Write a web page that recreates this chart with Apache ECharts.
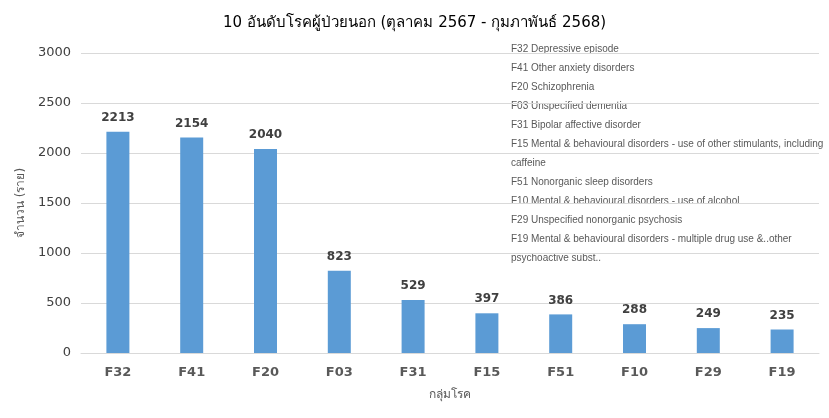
<!DOCTYPE html>
<html>
<head>
<meta charset="utf-8">
<script src="https://cdn.jsdelivr.net/npm/echarts@6/dist/echarts.min.js"></script>
<style>
  html, body { margin: 0; padding: 0; background: #fff; }
  #main { width: 829px; height: 418px; }
</style>
</head>
<body>
<div id="main"></div>
<script>
// ข้อมูล 10 อันดับโรค
var codes = ['F32', 'F41', 'F20', 'F03', 'F31', 'F15', 'F51', 'F10', 'F29', 'F19'];
var patients = [2213, 2154, 2040, 823, 529, 397, 386, 288, 249, 235];
var noteLines = [
    'F32 Depressive episode',
    'F41 Other anxiety disorders',
    'F20 Schizophrenia',
    'F03 Unspecified dementia',
    'F31 Bipolar affective disorder',
    'F15 Mental & behavioural disorders - use of other stimulants, including',
    'caffeine',
    'F51 Nonorganic sleep disorders',
    'F10 Mental & behavioural disorders - use of alcohol',
    'F29 Unspecified nonorganic psychosis',
    'F19 Mental & behavioural disorders - multiple drug use &..other',
    'psychoactive subst..'
];
var yTicks = [0, 500, 1000, 1500, 2000, 2500, 3000];

var font = 'Tahoma, "DejaVu Sans", "Noto Sans", sans-serif';
var noteFont = '"Liberation Sans", Arial, sans-serif';
var myChart = echarts.init(document.getElementById('main'));
var option = {
    animation: false,
    title: {
        text: '10 อันดับโรคผู้ป่วยนอก (ตุลาคม 2567 - กุมภาพันธ์ 2568)',
        left: 'center',
        top: 11,
        textStyle: { fontFamily: font, fontSize: 15, fontWeight: 'normal', color: '#000' }
    },
    grid: { left: 81, right: 10, top: 53, bottom: 65 },
    xAxis: {
        type: 'category',
        data: codes,
        name: 'กลุ่มโรค',
        nameLocation: 'middle',
        nameGap: 36,
        nameTextStyle: { fontFamily: font, fontSize: 12, color: '#595959' },
        axisLine: { lineStyle: { color: '#d9d9d9' } },
        axisTick: { show: false },
        axisLabel: { fontFamily: font, fontSize: 13, fontWeight: 'bold', color: '#595959', margin: 13 }
    },
    yAxis: {
        type: 'value',
        min: yTicks[0],
        max: yTicks[yTicks.length - 1],
        interval: 500,
        name: 'จำนวน (ราย)',
        nameLocation: 'middle',
        nameGap: 52,
        nameTextStyle: { fontFamily: font, fontSize: 12, color: '#595959' },
        axisLine: { show: false },
        axisTick: { show: false },
        axisLabel: {
            fontFamily: font, fontSize: 13, color: '#404040', margin: 10,
            formatter: function (v) { return String(v); }
        },
        splitLine: { lineStyle: { color: '#d9d9d9' } }
    },
    series: [{
        type: 'bar',
        data: patients,
        barWidth: 23,
        itemStyle: { color: '#5b9bd5' },
        label: {
            show: true,
            position: 'top',
            distance: 8,
            fontFamily: font,
            fontSize: 12,
            fontWeight: 'bold',
            color: '#404040'
        }
    }],
    graphic: [{
        type: 'text',
        left: 511,
        top: 40,
        style: {
            text: noteLines.join('\n'),
            fontFamily: noteFont,
            fontSize: 10,
            lineHeight: 19,
            fill: '#595959'
        }
    }]
};
myChart.setOption(option);
</script>
</body>
</html>
